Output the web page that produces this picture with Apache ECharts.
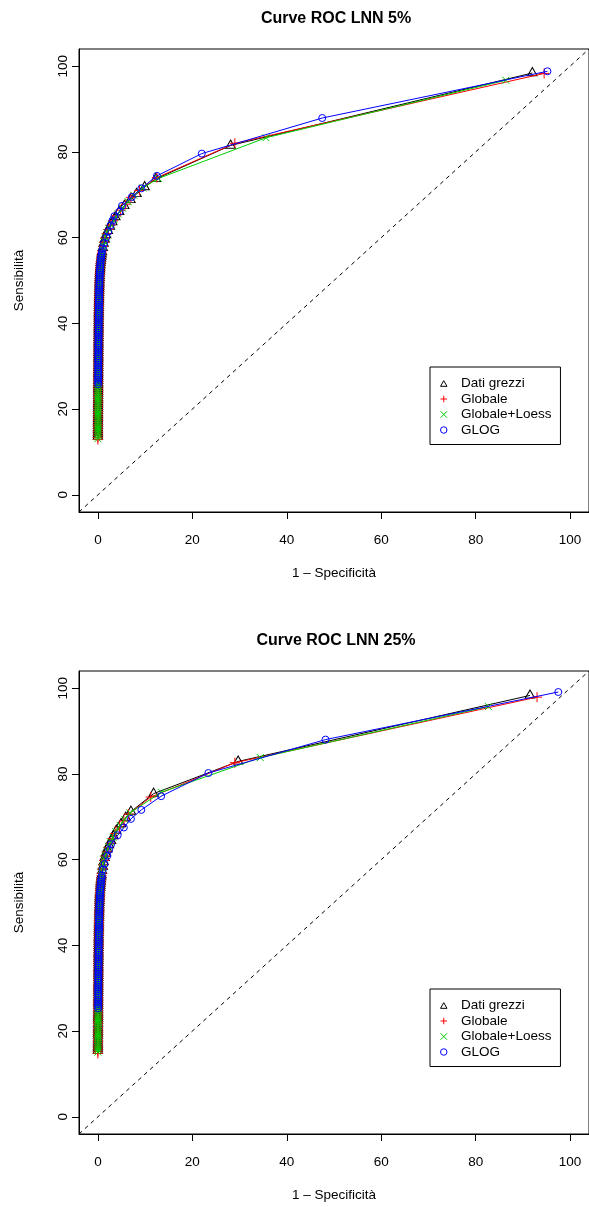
<!DOCTYPE html>
<html><head><meta charset="utf-8">
<script src="https://cdn.jsdelivr.net/npm/echarts@6/dist/echarts.min.js"></script>
<style>html,body{margin:0;padding:0;background:#fff}#c{width:589px;height:1207px}</style>
</head><body><div id="c"></div>
<script>
// ---------- texts ----------
const titles = ['Curve ROC LNN 5%', 'Curve ROC LNN 25%'];
const seriesNames = ['Dati grezzi', 'Globale', 'Globale+Loess', 'GLOG'];
const xAxisTitle = '1 – Specificità';
const yAxisTitle = 'Sensibilità';
const xTicks = [0, 20, 40, 60, 80, 100];
const yTicks = [0, 20, 40, 60, 80, 100];

// ---------- chart 1: LNN 5%  ([1-specificity, sensitivity]) ----------
const top_dati = [[0.00,13.6],[0.00,14.1],[0.01,14.6],[0.01,15.1],[0.01,15.6],[0.02,16.1],[0.02,16.6],[0.02,17.1],[0.02,17.6],[0.03,18.1],[0.03,18.6],[0.03,19.1],
[0.03,19.6],[0.04,20.1],[0.04,20.6],[0.04,21.1],[0.04,21.6],[0.05,22.1],[0.05,22.6],[0.05,23.1],[0.05,23.6],[0.06,24.1],[0.06,24.6],[0.06,25.1],
[0.06,25.6],[0.06,26.1],[0.07,26.6],[0.07,27.1],[0.07,27.6],[0.07,28.1],[0.08,28.6],[0.08,29.1],[0.08,29.6],[0.08,30.1],[0.09,30.6],[0.09,31.1],
[0.09,31.6],[0.10,32.1],[0.10,32.6],[0.10,33.1],[0.11,33.6],[0.11,34.1],[0.11,34.6],[0.12,35.1],[0.12,35.6],[0.12,36.1],[0.13,36.6],[0.13,37.1],
[0.14,37.6],[0.14,38.1],[0.15,38.6],[0.15,39.1],[0.16,39.6],[0.16,40.1],[0.17,40.6],[0.17,41.1],[0.18,41.6],[0.18,42.1],[0.19,42.6],[0.20,43.1],
[0.20,43.6],[0.21,44.1],[0.22,44.6],[0.23,45.1],[0.24,45.6],[0.25,46.1],[0.26,46.6],[0.27,47.1],[0.28,47.6],[0.29,48.1],[0.31,48.6],[0.32,49.1],
[0.33,49.6],[0.35,50.1],[0.37,50.6],[0.39,51.1],[0.41,51.6],[0.44,52.1],[0.47,52.6],[0.50,53.1],[0.54,53.6],[0.58,54.1],[0.63,54.6],[0.68,55.1],
[0.74,55.6],[0.80,56.1],[0.87,56.6],[1.03,57.6],[1.22,58.6],[1.46,59.6],[1.75,60.6],[2.10,61.6],[2.55,62.6],[3.05,63.6],[3.70,64.8],[4.50,66.0],
[5.60,67.4],[6.90,68.8],[8.20,70.2],[9.90,71.8],[12.30,73.7],[28.10,81.5],[92.00,98.4]];
const top_globale = [[0.00,12.9],[0.00,13.4],[0.01,13.9],[0.01,14.4],[0.01,14.9],[0.02,15.4],[0.02,15.9],[0.02,16.4],[0.02,16.9],[0.03,17.4],[0.03,17.9],[0.03,18.4],
[0.03,18.9],[0.04,19.4],[0.04,19.9],[0.04,20.4],[0.04,20.9],[0.05,21.4],[0.05,21.9],[0.05,22.4],[0.05,22.9],[0.06,23.4],[0.06,23.9],[0.06,24.4],
[0.06,24.9],[0.06,25.4],[0.07,25.9],[0.07,26.4],[0.07,26.9],[0.07,27.4],[0.08,27.9],[0.08,28.4],[0.08,28.9],[0.08,29.4],[0.09,29.9],[0.09,30.4],
[0.09,30.9],[0.10,31.4],[0.10,31.9],[0.10,32.4],[0.11,32.9],[0.11,33.4],[0.11,33.9],[0.12,34.4],[0.12,34.9],[0.12,35.4],[0.13,35.9],[0.13,36.4],
[0.14,36.9],[0.14,37.4],[0.15,37.9],[0.15,38.4],[0.16,38.9],[0.16,39.4],[0.17,39.9],[0.17,40.4],[0.18,40.9],[0.18,41.4],[0.19,41.9],[0.19,42.4],
[0.20,42.9],[0.21,43.4],[0.21,43.9],[0.22,44.4],[0.23,44.9],[0.24,45.4],[0.25,45.9],[0.26,46.4],[0.27,46.9],[0.28,47.4],[0.29,47.9],[0.30,48.4],
[0.32,48.9],[0.33,49.4],[0.35,49.9],[0.37,50.4],[0.39,50.9],[0.41,51.4],[0.44,51.9],[0.47,52.4],[0.50,52.9],[0.53,53.4],[0.57,53.9],[0.61,54.4],
[0.66,54.9],[0.71,55.4],[0.77,55.9],[0.84,56.4],[0.91,56.9],[1.08,57.9],[1.28,58.9],[1.53,59.9],[1.83,60.9],[2.20,61.9],[2.65,62.9],[3.20,63.9],
[3.90,65.1],[4.80,66.4],[5.90,67.8],[7.00,69.4],[8.80,71.0],[12.50,74.0],[29.00,82.0],[94.50,98.3]];
const top_loess = [[0.00,13.1],[0.00,13.6],[0.01,14.1],[0.01,14.6],[0.01,15.1],[0.02,15.6],[0.02,16.1],[0.02,16.6],[0.02,17.1],[0.03,17.6],[0.03,18.1],[0.03,18.6],
[0.03,19.1],[0.04,19.6],[0.04,20.1],[0.04,20.6],[0.04,21.1],[0.05,21.6],[0.05,22.1],[0.05,22.6],[0.05,23.1],[0.06,23.6],[0.06,24.1],[0.06,24.6],
[0.06,25.1],[0.06,25.6],[0.07,26.1],[0.07,26.6],[0.07,27.1],[0.07,27.6],[0.08,28.1],[0.08,28.6],[0.08,29.1],[0.08,29.6],[0.09,30.1],[0.09,30.6],
[0.09,31.1],[0.10,31.6],[0.10,32.1],[0.10,32.6],[0.11,33.1],[0.11,33.6],[0.11,34.1],[0.12,34.6],[0.12,35.1],[0.12,35.6],[0.13,36.1],[0.13,36.6],
[0.14,37.1],[0.14,37.6],[0.15,38.1],[0.15,38.6],[0.16,39.1],[0.16,39.6],[0.17,40.1],[0.17,40.6],[0.18,41.1],[0.18,41.6],[0.19,42.1],[0.20,42.6],
[0.20,43.1],[0.21,43.6],[0.22,44.1],[0.23,44.6],[0.24,45.1],[0.25,45.6],[0.26,46.1],[0.27,46.6],[0.28,47.1],[0.29,47.6],[0.31,48.1],[0.32,48.6],
[0.33,49.1],[0.35,49.6],[0.37,50.1],[0.39,50.6],[0.41,51.1],[0.44,51.6],[0.47,52.1],[0.50,52.6],[0.54,53.1],[0.58,53.6],[0.62,54.1],[0.67,54.6],
[0.72,55.1],[0.78,55.6],[0.85,56.1],[0.92,56.6],[0.98,57.1],[1.14,58.1],[1.36,59.1],[1.62,60.1],[1.94,61.1],[2.33,62.1],[2.80,63.1],[3.40,64.2],
[4.20,65.5],[5.20,66.9],[6.40,68.4],[7.60,69.9],[9.50,71.6],[12.80,73.8],[35.60,83.3],[86.40,96.7]];
const top_glog = [[0.06,25.8],[0.06,26.3],[0.07,26.8],[0.07,27.3],[0.07,27.8],[0.07,28.3],[0.08,28.8],[0.08,29.3],[0.08,29.8],[0.08,30.3],[0.09,30.8],[0.09,31.3],
[0.09,31.8],[0.10,32.3],[0.10,32.8],[0.10,33.3],[0.11,33.8],[0.11,34.3],[0.11,34.8],[0.12,35.3],[0.12,35.8],[0.12,36.3],[0.13,36.8],[0.13,37.3],
[0.14,37.8],[0.14,38.3],[0.15,38.8],[0.15,39.3],[0.16,39.8],[0.16,40.3],[0.17,40.8],[0.17,41.3],[0.18,41.8],[0.18,42.3],[0.19,42.8],[0.20,43.3],
[0.20,43.8],[0.21,44.3],[0.22,44.8],[0.23,45.3],[0.24,45.8],[0.25,46.3],[0.26,46.8],[0.27,47.3],[0.28,47.8],[0.29,48.3],[0.31,48.8],[0.32,49.3],
[0.33,49.8],[0.35,50.3],[0.37,50.8],[0.39,51.3],[0.41,51.8],[0.44,52.3],[0.47,52.8],[0.50,53.3],[0.54,53.8],[0.58,54.3],[0.63,54.8],[0.68,55.3],
[0.74,55.8],[0.80,56.3],[0.88,56.8],[1.05,57.5],[1.30,58.7],[1.80,60.1],[2.20,61.4],[2.70,62.9],[3.10,64.0],[3.50,65.0],[4.60,66.1],[5.10,67.4],
[7.20,69.5],[9.20,71.5],[12.50,74.4],[22.00,79.6],[47.50,87.9],[95.20,98.8]];

// ---------- chart 2: LNN 25% ----------
const bot_dati = [[0.00,15.4],[0.00,15.9],[0.01,16.4],[0.01,16.9],[0.01,17.4],[0.02,17.9],[0.02,18.4],[0.02,18.9],[0.02,19.4],[0.03,19.9],[0.03,20.4],[0.03,20.9],
[0.03,21.4],[0.04,21.9],[0.04,22.4],[0.04,22.9],[0.04,23.4],[0.05,23.9],[0.05,24.4],[0.05,24.9],[0.05,25.4],[0.06,25.9],[0.06,26.4],[0.06,26.9],
[0.06,27.4],[0.07,27.9],[0.07,28.4],[0.07,28.9],[0.07,29.4],[0.08,29.9],[0.08,30.4],[0.08,30.9],[0.08,31.4],[0.09,31.9],[0.09,32.4],[0.09,32.9],
[0.10,33.4],[0.10,33.9],[0.10,34.4],[0.11,34.9],[0.11,35.4],[0.11,35.9],[0.12,36.4],[0.12,36.9],[0.13,37.4],[0.13,37.9],[0.14,38.4],[0.14,38.9],
[0.15,39.4],[0.15,39.9],[0.16,40.4],[0.16,40.9],[0.17,41.4],[0.17,41.9],[0.18,42.4],[0.19,42.9],[0.19,43.4],[0.20,43.9],[0.21,44.4],[0.22,44.9],
[0.23,45.4],[0.24,45.9],[0.25,46.4],[0.26,46.9],[0.27,47.4],[0.28,47.9],[0.29,48.4],[0.31,48.9],[0.32,49.4],[0.34,49.9],[0.35,50.4],[0.37,50.9],
[0.39,51.4],[0.41,51.9],[0.44,52.4],[0.47,52.9],[0.50,53.4],[0.53,53.9],[0.57,54.4],[0.61,54.9],[0.66,55.4],[0.71,55.9],[0.77,56.4],[0.88,57.4],
[1.03,58.4],[1.20,59.4],[1.42,60.4],[1.68,61.4],[1.98,62.4],[2.35,63.4],[2.80,64.4],[3.30,65.5],[3.90,66.8],[4.90,68.3],[5.90,69.8],[7.00,71.2],
[11.80,75.4],[29.70,82.9],[91.50,98.3]];
const bot_globale = [[0.00,14.8],[0.00,15.3],[0.01,15.8],[0.01,16.3],[0.01,16.8],[0.02,17.3],[0.02,17.8],[0.02,18.3],[0.02,18.8],[0.03,19.3],[0.03,19.8],[0.03,20.3],
[0.03,20.8],[0.04,21.3],[0.04,21.8],[0.04,22.3],[0.04,22.8],[0.05,23.3],[0.05,23.8],[0.05,24.3],[0.05,24.8],[0.06,25.3],[0.06,25.8],[0.06,26.3],
[0.06,26.8],[0.07,27.3],[0.07,27.8],[0.07,28.3],[0.07,28.8],[0.08,29.3],[0.08,29.8],[0.08,30.3],[0.08,30.8],[0.09,31.3],[0.09,31.8],[0.09,32.3],
[0.10,32.8],[0.10,33.3],[0.10,33.8],[0.11,34.3],[0.11,34.8],[0.11,35.3],[0.12,35.8],[0.12,36.3],[0.13,36.8],[0.13,37.3],[0.14,37.8],[0.14,38.3],
[0.15,38.8],[0.15,39.3],[0.16,39.8],[0.16,40.3],[0.17,40.8],[0.17,41.3],[0.18,41.8],[0.18,42.3],[0.19,42.8],[0.20,43.3],[0.20,43.8],[0.21,44.3],
[0.22,44.8],[0.23,45.3],[0.24,45.8],[0.25,46.3],[0.26,46.8],[0.27,47.3],[0.28,47.8],[0.29,48.3],[0.30,48.8],[0.32,49.3],[0.33,49.8],[0.35,50.3],
[0.37,50.8],[0.39,51.3],[0.41,51.8],[0.44,52.3],[0.47,52.8],[0.50,53.3],[0.53,53.8],[0.57,54.3],[0.61,54.8],[0.66,55.3],[0.71,55.8],[0.77,56.3],
[0.82,56.8],[0.96,57.8],[1.13,58.8],[1.33,59.8],[1.57,60.8],[1.86,61.8],[2.20,62.8],[2.62,63.8],[3.10,64.9],[3.70,66.1],[4.60,67.6],[5.50,69.0],
[6.50,70.6],[11.20,74.6],[29.00,82.6],[93.00,97.9]];
const bot_loess = [[0.00,15.1],[0.00,15.6],[0.01,16.1],[0.01,16.6],[0.01,17.1],[0.02,17.6],[0.02,18.1],[0.02,18.6],[0.02,19.1],[0.03,19.6],[0.03,20.1],[0.03,20.6],
[0.03,21.1],[0.04,21.6],[0.04,22.1],[0.04,22.6],[0.04,23.1],[0.05,23.6],[0.05,24.1],[0.05,24.6],[0.05,25.1],[0.06,25.6],[0.06,26.1],[0.06,26.6],
[0.06,27.1],[0.07,27.6],[0.07,28.1],[0.07,28.6],[0.07,29.1],[0.08,29.6],[0.08,30.1],[0.08,30.6],[0.08,31.1],[0.09,31.6],[0.09,32.1],[0.09,32.6],
[0.10,33.1],[0.10,33.6],[0.10,34.1],[0.11,34.6],[0.11,35.1],[0.11,35.6],[0.12,36.1],[0.12,36.6],[0.13,37.1],[0.13,37.6],[0.14,38.1],[0.14,38.6],
[0.15,39.1],[0.15,39.6],[0.16,40.1],[0.16,40.6],[0.17,41.1],[0.17,41.6],[0.18,42.1],[0.19,42.6],[0.19,43.1],[0.20,43.6],[0.21,44.1],[0.22,44.6],
[0.23,45.1],[0.24,45.6],[0.25,46.1],[0.26,46.6],[0.27,47.1],[0.28,47.6],[0.29,48.1],[0.31,48.6],[0.32,49.1],[0.34,49.6],[0.35,50.1],[0.37,50.6],
[0.39,51.1],[0.41,51.6],[0.44,52.1],[0.47,52.6],[0.50,53.1],[0.53,53.6],[0.57,54.1],[0.61,54.6],[0.66,55.1],[0.71,55.6],[0.77,56.1],[0.85,57.1],
[1.00,58.1],[1.17,59.1],[1.38,60.1],[1.63,61.1],[1.92,62.1],[2.28,63.1],[2.70,64.1],[3.20,65.2],[3.80,66.5],[4.70,68.0],[5.70,69.4],[6.80,70.9],
[13.40,75.7],[34.40,83.8],[82.70,95.7]];
const bot_glog = [[0.06,25.3],[0.06,25.8],[0.06,26.3],[0.07,26.8],[0.07,27.3],[0.07,27.8],[0.07,28.3],[0.08,28.8],[0.08,29.3],[0.08,29.8],[0.08,30.3],[0.09,30.8],
[0.09,31.3],[0.09,31.8],[0.10,32.3],[0.10,32.8],[0.10,33.3],[0.11,33.8],[0.11,34.3],[0.11,34.8],[0.12,35.3],[0.12,35.8],[0.13,36.3],[0.13,36.8],
[0.14,37.3],[0.14,37.8],[0.15,38.3],[0.15,38.8],[0.16,39.3],[0.16,39.8],[0.17,40.3],[0.17,40.8],[0.18,41.3],[0.18,41.8],[0.19,42.3],[0.20,42.8],
[0.20,43.3],[0.21,43.8],[0.22,44.3],[0.23,44.8],[0.24,45.3],[0.25,45.8],[0.26,46.3],[0.27,46.8],[0.28,47.3],[0.29,47.8],[0.31,48.3],[0.32,48.8],
[0.34,49.3],[0.35,49.8],[0.37,50.3],[0.39,50.8],[0.41,51.3],[0.44,51.8],[0.47,52.3],[0.50,52.8],[0.53,53.3],[0.57,53.8],[0.61,54.3],[0.66,54.8],
[0.71,55.3],[0.77,55.8],[0.84,56.3],[1.05,57.7],[1.40,59.0],[2.00,60.9],[2.40,62.3],[2.80,63.6],[4.20,65.7],[5.50,67.5],[7.00,69.5],[9.20,71.6],
[13.40,74.8],[23.40,80.2],[48.20,88.0],[97.50,99.1]];

const diagonal = [[-4,-4],[104,104]];

// ---------- styling ----------
const FONT = 'Liberation Sans, Arial, Helvetica, sans-serif';
const colors = ['#000000', '#FF0000', '#00CD00', '#0000FF'];
const symbols = [
  'path://M5,0L10,8.66L0,8.66Z',
  'path://M0,5L10,5M5,0L5,10',
  'path://M0,0L10,10M10,0L0,10',
  'path://M10,5A5,5,0,1,1,0,5A5,5,0,1,1,10,5Z'
];
const symSizes = [[9.4, 8.2], 10, 7, 7];
const symOffsets = [[0, -1.4], [0, 0], [0, 0], [0, 0]];
const datasets = [[top_dati, top_globale, top_loess, top_glog], [bot_dati, bot_globale, bot_loess, bot_glog]];

const gridTops = [49, 671];
const grids = gridTops.map(t => ({left: 79, top: t, width: 514, height: 463, show: true, borderColor: '#000', borderWidth: 1, backgroundColor: 'transparent'}));

const xAxes = gridTops.map((t, i) => ({
  type: 'value', gridIndex: i, min: -4, max: 104,
  splitLine: {show: false},
  axisLine: {show: true, onZero: false, lineStyle: {color: '#000', width: 1}},
  axisTick: {show: true, customValues: xTicks, length: 7, lineStyle: {color: '#000', width: 1}},
  axisLabel: {customValues: xTicks, margin: 21, color: '#000', fontSize: 13.5, fontFamily: FONT},
  name: xAxisTitle, nameLocation: 'middle', nameGap: 54,
  nameTextStyle: {color: '#000', fontSize: 13.5, fontFamily: FONT}
}));
const yAxes = gridTops.map((t, i) => ({
  type: 'value', gridIndex: i, min: -4, max: 104,
  splitLine: {show: false},
  axisLine: {show: true, onZero: false, lineStyle: {color: '#000', width: 1}},
  axisTick: {show: true, customValues: yTicks, length: 7, lineStyle: {color: '#000', width: 1}},
  axisLabel: {customValues: yTicks, rotate: 90, margin: 9, color: '#000', fontSize: 13.5, fontFamily: FONT},
  name: yAxisTitle, nameLocation: 'middle', nameGap: 53,
  nameTextStyle: {color: '#000', fontSize: 13.5, fontFamily: FONT}
}));

const series = [];
[0, 1].forEach(g => {
  series.push({
    type: 'line', xAxisIndex: g, yAxisIndex: g, data: diagonal, symbol: 'none', silent: true,
    lineStyle: {color: '#000', width: 1, type: [4, 4]}, z: 1
  });
  seriesNames.forEach((nm, k) => {
    series.push({
      name: nm, type: 'line', xAxisIndex: g, yAxisIndex: g, data: datasets[g][k],
      symbol: symbols[k], symbolSize: symSizes[k], symbolOffset: symOffsets[k], showAllSymbol: true,
      lineStyle: {color: colors[k], width: 1},
      itemStyle: {color: 'transparent', borderColor: colors[k], borderWidth: 1},
      emphasis: {disabled: true}, z: 2 + k
    });
  });
});

const legends = gridTops.map(t => ({
  orient: 'vertical', left: 430, top: t + 318,
  data: seriesNames.map((nm, k) => ({name: nm, icon: symbols[k]})),
  itemWidth: 6.5, itemHeight: 6.5, itemGap: 0.5,
  padding: [9, 9, 7, 10],
  itemStyle: {borderWidth: 1},
  borderColor: '#000', borderWidth: 1, borderRadius: 0,
  textStyle: {color: '#000', fontSize: 13.5, fontFamily: FONT, lineHeight: 15, padding: [0, 0, 0, 9]},
  selectedMode: false
}));

const titleOpts = titles.map((tt, i) => ({
  text: tt, left: 331, textAlign: 'center', top: i === 0 ? 6 : 628,
  textStyle: {color: '#000', fontSize: 16, fontWeight: 'bold', fontFamily: FONT}
}));

const chart = echarts.init(document.getElementById('c'), null, {renderer: 'canvas'});
chart.setOption({
  animation: false,
  backgroundColor: '#fff',
  title: titleOpts,
  grid: grids,
  xAxis: xAxes,
  yAxis: yAxes,
  legend: legends,
  series: series
});
</script></body></html>
